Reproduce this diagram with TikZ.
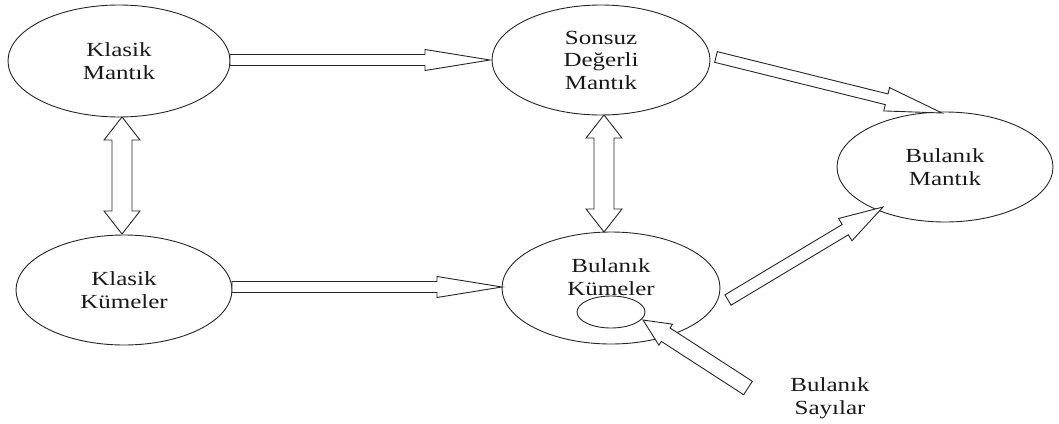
\documentclass[tikz,border=0pt]{standalone}
\usepackage{fontspec}
\setmainfont[FakeStretch=1.25]{Liberation Serif}
\usetikzlibrary{shapes.geometric,calc}
\tikzset{
  ell/.style={draw=black!85, line width=0.9pt, ellipse, inner sep=0pt},
  lbl/.style={align=center, font=\fontsize{20}{22.5}\selectfont, text=black!90},
  blockar/.style={draw=black!85, line width=0.9pt, fill=white, line join=miter},
}
\newcommand{\BArrow}[5]{%
 \draw[blockar] let \p1=(#1), \p2=(#2), \n1={atan2(\y2-\y1,\x2-\x1)}, \n2={veclen(\x2-\x1,\y2-\y1)} in
  ($(\p1)+(\n1-90:#3)$) -- ($(\p1)+(\n1:{\n2-#5})+(\n1-90:#3)$) -- ($(\p1)+(\n1:{\n2-#5})+(\n1-90:#4)$)
  -- (\p2) -- ($(\p1)+(\n1:{\n2-#5})+(\n1+90:#4)$) -- ($(\p1)+(\n1:{\n2-#5})+(\n1+90:#3)$)
  -- ($(\p1)+(\n1+90:#3)$) -- cycle;}
\newcommand{\BDArrow}[5]{%
 \draw[blockar] let \p1=(#1), \p2=(#2), \n1={atan2(\y2-\y1,\x2-\x1)}, \n2={veclen(\x2-\x1,\y2-\y1)} in
  (\p1) -- ($(\p1)+(\n1:#5)+(\n1-90:#4)$) -- ($(\p1)+(\n1:#5)+(\n1-90:#3)$)
  -- ($(\p1)+(\n1:{\n2-#5})+(\n1-90:#3)$) -- ($(\p1)+(\n1:{\n2-#5})+(\n1-90:#4)$)
  -- (\p2) -- ($(\p1)+(\n1:{\n2-#5})+(\n1+90:#4)$) -- ($(\p1)+(\n1:{\n2-#5})+(\n1+90:#3)$)
  -- ($(\p1)+(\n1:#5)+(\n1+90:#3)$) -- ($(\p1)+(\n1:#5)+(\n1+90:#4)$) -- cycle;}
\begin{document}
\begin{tikzpicture}[x=1pt,y=-1pt]
\useasboundingbox (0,0) rectangle (1059,423);
% ellipses
\node[ell, minimum width=222pt, minimum height=112pt, lbl] (km) at (119,61) {Klasik\\Mantık};
\node[ell, minimum width=218pt, minimum height=110pt, lbl] (sdm) at (601,60) {Sonsuz\\Değerli\\Mantık};
\node[ell, minimum width=216pt, minimum height=110pt, lbl] (kk) at (124,290) {Klasik\\Kümeler};
\node[ell, minimum width=218pt, minimum height=112pt] (bk) at (611,288) {};
\node[lbl] (bkt) at (611,277) {Bulanık\\Kümeler};
\node[ell, minimum width=68pt, minimum height=32pt] (bsc) at (611,312) {};
\node[ell, minimum width=216pt, minimum height=110pt, lbl] (bm) at (945,167) {Bulanık\\Mantık};
\node[lbl] (bs) at (830,398) {Bulanık\\Sayılar};
% arrow end points
\coordinate (a1s) at (230,60);  \coordinate (a1e) at (490,60);
\coordinate (a2s) at (232,287); \coordinate (a2e) at (502,287);
\coordinate (v1s) at (122,117); \coordinate (v1e) at (122,234);
\coordinate (v2s) at (604,115); \coordinate (v2e) at (604,232);
\coordinate (d1s) at (716,57);  \coordinate (d1e) at (942,113);
\coordinate (d2s) at (728,300); \coordinate (d2e) at (883,207);
\coordinate (d3s) at (748,388); \coordinate (d3e) at (643,320);
% arrows
\BArrow{a1s}{a1e}{5.5pt}{10.5pt}{65pt}
\BArrow{a2s}{a2e}{5.5pt}{10.5pt}{65pt}
\BDArrow{v1s}{v1e}{10pt}{18pt}{23pt}
\BDArrow{v2s}{v2e}{10pt}{18pt}{23pt}
\BArrow{d1s}{d1e}{5.5pt}{12pt}{57pt}
\BArrow{d2s}{d2e}{6pt}{13pt}{44pt}
\BArrow{d3s}{d3e}{8pt}{12.5pt}{27pt}
\end{tikzpicture}
\end{document}
